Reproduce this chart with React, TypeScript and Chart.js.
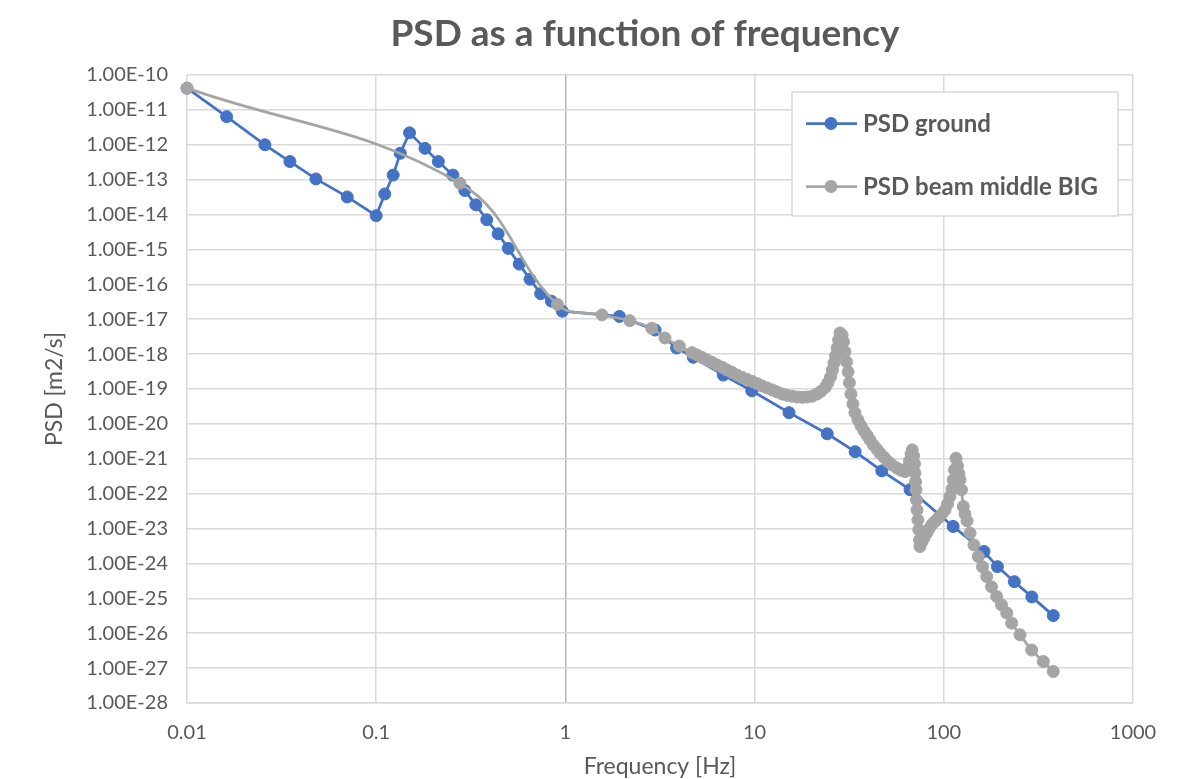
import { useEffect, useRef } from 'react';
import { Chart, registerables } from 'chart.js';

Chart.register(...registerables);

const TITLE = 'PSD as a function of frequency';
const X_TITLE = 'Frequency [Hz]';
const Y_TITLE = 'PSD [m2/s]';
const SERIES_NAMES = ['PSD ground', 'PSD beam middle BIG'];

const X_TICK_VALUES = [0.01, 0.1, 1, 10, 100, 1000];
const X_TICK_LABELS = ['0.01', '0.1', '1', '10', '100', '1000'];
const Y_TICK_VALUES = [
  1e-28, 1e-27, 1e-26, 1e-25, 1e-24, 1e-23, 1e-22, 1e-21, 1e-20, 1e-19,
  1e-18, 1e-17, 1e-16, 1e-15, 1e-14, 1e-13, 1e-12, 1e-11, 1e-10,
];
const Y_TICK_LABELS = [
  '1.00E-28', '1.00E-27', '1.00E-26', '1.00E-25', '1.00E-24', '1.00E-23', '1.00E-22',
  '1.00E-21', '1.00E-20', '1.00E-19', '1.00E-18', '1.00E-17', '1.00E-16', '1.00E-15',
  '1.00E-14', '1.00E-13', '1.00E-12', '1.00E-11', '1.00E-10',
];

const groundFreq = [
  0.01, 0.0162, 0.0258, 0.035, 0.048, 0.0703, 0.1, 0.111, 0.123, 0.134, 0.15, 0.181,
  0.213, 0.254, 0.294, 0.336, 0.384, 0.441, 0.499, 0.57, 0.65, 0.74, 0.843, 0.963,
  1.93, 2.98, 3.87, 4.74, 6.83, 9.66, 15.2, 24.2, 34, 47, 66.3, 112, 163, 192, 236, 292, 379,
];
const groundPsd = [
  4.2e-11, 6.4e-12, 1.0e-12, 3.3e-13, 1.05e-13, 3.2e-14, 9.3e-15, 3.9e-14, 1.35e-13, 5.7e-13,
  2.2e-12, 7.9e-13, 3.3e-13, 1.35e-13, 4.9e-14, 1.9e-14, 7.1e-15, 2.8e-15, 1.07e-15, 3.8e-16,
  1.4e-16, 5.4e-17, 3.3e-17, 1.7e-17, 1.2e-17, 4.9e-18, 1.5e-18, 8.1e-19, 2.5e-19, 8.9e-20,
  2.1e-20, 5.2e-21, 1.6e-21, 4.5e-22, 1.3e-22, 1.15e-23, 2.2e-24, 8.1e-25, 3.0e-25, 1.1e-25, 3.2e-26,
];

const beamFreq = [
  0.01, 0.277, 0.908, 1.56, 2.19, 2.86, 3.36, 4.0, 4.67, 4.96, 5.27, 5.6, 5.95, 6.33, 6.73,
  7.15, 7.6, 8.07, 8.58, 9.12, 9.69, 10.3, 10.9, 11.6, 12.4, 13.1, 14.0, 14.8, 15.8, 16.8,
  17.8, 18.9, 20.1, 21.4, 22.4, 23.6, 24.4, 25.2, 25.8, 26.3, 26.8, 27.3, 27.8, 28.3, 29.0,
  29.5, 30.0, 30.6, 31.2, 31.7, 32.3, 33.1, 33.9, 35.2, 36.5, 37.9, 39.3, 40.7, 42.4, 44.4,
  46.0, 48.3, 50.7, 53.2, 56.6, 59.4, 62.4, 64.3, 65.9, 67.1, 68.1, 69.2, 70.0, 70.4, 70.9,
  71.3, 71.7, 72.2, 73.0, 73.8, 74.4, 74.8, 76.7, 78.6, 81.2, 83.5, 86.3, 89.8, 93.5, 97.2,
  101.5, 104.6, 107.8, 110.5, 112.2, 113.9, 116.0, 118.1, 120.3, 121.8, 124.0, 126.8, 129.5,
  132.7, 137.6, 144.4, 152.2, 160.2, 168.6, 178.7, 190.4, 201.8, 215.1, 228.5, 252.8, 291.5,
  335.7, 379.1,
];
const beamPsd = [
  4.2e-11, 7.9e-14, 2.65e-17, 1.33e-17, 9.1e-18, 5.5e-18, 2.9e-18, 1.7e-18, 1.1e-18, 9.5e-19,
  8.0e-19, 6.8e-19, 5.8e-19, 4.9e-19, 4.2e-19, 3.5e-19, 3.0e-19, 2.5e-19, 2.15e-19, 1.9e-19,
  1.65e-19, 1.43e-19, 1.23e-19, 1.08e-19, 9.4e-20, 8.3e-20, 7.2e-20, 6.6e-20, 6.2e-20, 5.9e-20,
  5.8e-20, 5.9e-20, 6.2e-20, 7.2e-20, 8.5e-20, 1.11e-19, 1.5e-19, 2.2e-19, 3.5e-19, 5.6e-19,
  8.9e-19, 1.5e-18, 2.55e-18, 4.05e-18, 3.55e-18, 2.24e-18, 1.16e-18, 6.0e-19, 3.1e-19, 1.5e-19,
  7.2e-20, 3.7e-20, 2.07e-20, 1.3e-20, 8.8e-21, 6.3e-21, 4.7e-21, 3.5e-21, 2.5e-21, 1.86e-21,
  1.45e-21, 1.1e-21, 8.3e-22, 6.7e-22, 5.4e-22, 4.7e-22, 4.3e-22, 5.5e-22, 8.7e-22, 1.38e-21,
  1.8e-21, 1.21e-21, 7.1e-22, 3.9e-22, 2.2e-22, 1.29e-22, 6.6e-23, 3.4e-23, 1.77e-23, 9.2e-24,
  4.7e-24, 3.05e-24, 4.2e-24, 5.4e-24, 7.4e-24, 9.8e-24, 1.28e-23, 1.59e-23, 1.99e-23, 2.55e-23,
  3.4e-23, 5.1e-23, 8.3e-23, 1.37e-22, 2.5e-22, 4.8e-22, 1.04e-21, 6.3e-22, 3.7e-22, 2.5e-22,
  1.29e-22, 4.3e-23, 2.6e-23, 1.66e-23, 7.4e-24, 3.4e-24, 1.58e-24, 8.0e-25, 4.2e-25, 2.14e-25,
  1.13e-25, 6.5e-26, 3.8e-26, 1.95e-26, 9.0e-27, 3.3e-27, 1.55e-27, 8.0e-28,
];

const BLUE = '#4472c4';
const GREY = '#a5a5a5';
const TEXT = '#595959';
const GRID = '#d9d9d9';
const FONT = 'Lato, "Open Sans", sans-serif';

const overlayPlugin = {
  id: 'overlay',
  afterDraw(chart: any) {
    const ctx = chart.ctx as CanvasRenderingContext2D;
    ctx.save();
    ctx.fillStyle = TEXT;
    ctx.font = `bold 37px ${FONT}`;
    ctx.textAlign = 'center';
    ctx.textBaseline = 'alphabetic';
    ctx.fillText(TITLE, 645, 46);

    // legend box
    ctx.fillStyle = '#ffffff';
    ctx.fillRect(792, 92, 326, 124);
    ctx.strokeStyle = GRID;
    ctx.lineWidth = 1.5;
    ctx.strokeRect(792, 92, 326, 124);

    chart.data.datasets.forEach((ds: any, i: number) => {
      const y = 123.5 + i * 63;
      ctx.strokeStyle = ds.borderColor;
      ctx.lineWidth = ds.borderWidth;
      ctx.beginPath();
      ctx.moveTo(806, y);
      ctx.lineTo(857, y);
      ctx.stroke();
      ctx.fillStyle = ds.pointBackgroundColor;
      ctx.beginPath();
      ctx.arc(831, y, 6.5, 0, Math.PI * 2);
      ctx.fill();
      ctx.fillStyle = TEXT;
      ctx.font = `bold 24px ${FONT}`;
      ctx.textAlign = 'left';
      ctx.textBaseline = 'alphabetic';
      ctx.fillText(ds.label, 863, y + 8);
    });
    ctx.restore();
  },
};

export default function App() {
  const ref = useRef<HTMLCanvasElement | null>(null);

  useEffect(() => {
    if (!ref.current) return;
    const ground = groundFreq.map((f, i) => ({ x: f, y: groundPsd[i] }));
    const beam = beamFreq.map((f, i) => ({ x: f, y: beamPsd[i] }));
    const tickFont = { family: FONT, size: 20 };
    const titleFont = { family: FONT, size: 23 };

    const chart = new Chart(ref.current, {
      type: 'scatter',
      data: {
        datasets: [
          {
            label: SERIES_NAMES[0],
            data: ground,
            showLine: true,
            borderColor: BLUE,
            backgroundColor: BLUE,
            pointBackgroundColor: BLUE,
            pointBorderColor: BLUE,
            borderWidth: 2.75,
            pointRadius: 6,
            pointBorderWidth: 1,
            tension: 0,
            order: 1,
            clip: false,
          } as any,
          {
            label: SERIES_NAMES[1],
            data: beam,
            showLine: true,
            borderColor: GREY,
            backgroundColor: GREY,
            pointBackgroundColor: GREY,
            pointBorderColor: GREY,
            borderWidth: 2.75,
            pointRadius: 6,
            pointBorderWidth: 1,
            tension: 0.4,
            order: 0,
            clip: false,
          } as any,
        ],
      },
      options: {
        responsive: false,
        animation: false,
        devicePixelRatio: 1,
        layout: { padding: { left: 0, right: 47, top: 75, bottom: 0 } },
        plugins: {
          legend: { display: false },
          title: { display: false },
          tooltip: { enabled: false },
        },
        scales: {
          x: {
            type: 'logarithmic',
            min: 0.01,
            max: 1000,
            afterBuildTicks: (s: any) => {
              s.ticks = X_TICK_VALUES.map((v) => ({ value: v }));
            },
            afterFit: (s: any) => {
              s.height = 76;
            },
            ticks: {
              autoSkip: false,
              maxRotation: 0,
              color: TEXT,
              font: tickFont,
              padding: 18,
              callback: (v: any) => X_TICK_LABELS[X_TICK_VALUES.indexOf(Number(v))] ?? '',
            },
            grid: {
              drawTicks: false,
              lineWidth: 1.5,
              color: (c: any) => (c.tick && c.tick.value === 1 ? '#b4b4b4' : GRID),
            },
            border: { display: true, color: GRID, width: 1.5 },
            title: {
              display: true,
              text: X_TITLE,
              color: TEXT,
              font: titleFont,
              padding: { top: 0, bottom: -1 },
            },
          },
          y: {
            type: 'logarithmic',
            min: 1e-28,
            max: 1e-10,
            afterBuildTicks: (s: any) => {
              s.ticks = Y_TICK_VALUES.map((v) => ({ value: v }));
            },
            afterFit: (s: any) => {
              s.width = 187;
            },
            ticks: {
              autoSkip: false,
              color: TEXT,
              font: tickFont,
              padding: 19,
              callback: (v: any) => Y_TICK_LABELS[Y_TICK_VALUES.indexOf(Number(v))] ?? '',
            },
            grid: { drawTicks: false, lineWidth: 1.5, color: GRID },
            border: { display: false },
            title: {
              display: true,
              text: Y_TITLE,
              color: TEXT,
              font: titleFont,
              padding: { top: 41, bottom: 0 },
            },
          },
        },
      } as any,
      plugins: [overlayPlugin],
    });
    return () => chart.destroy();
  }, []);

  return (
    <div style={{ position: 'fixed', left: 0, top: 0, width: 1180, height: 779, background: '#ffffff' }}>
      <canvas ref={ref} width={1180} height={779} />
    </div>
  );
}
